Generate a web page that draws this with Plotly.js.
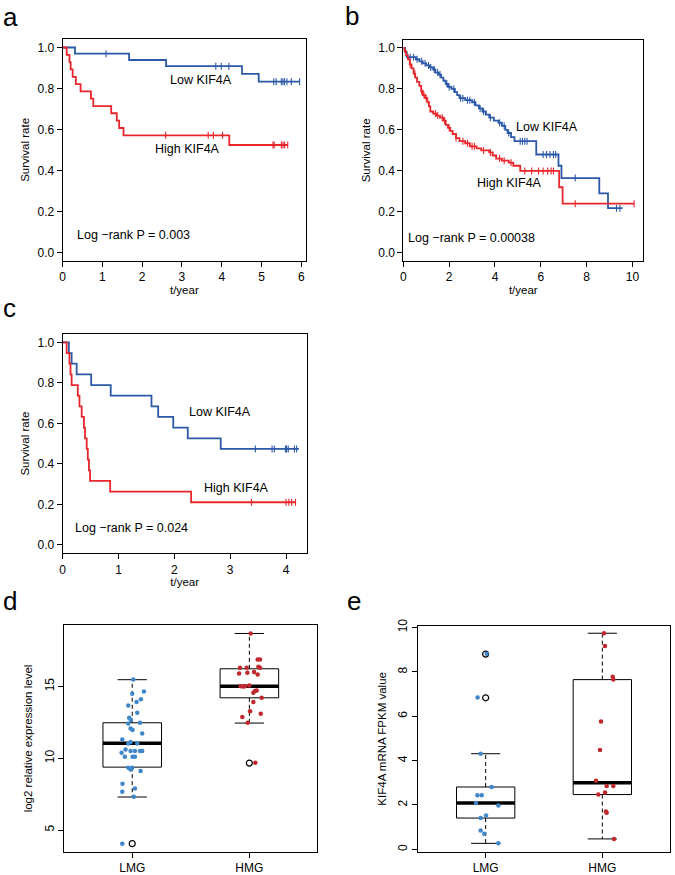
<!DOCTYPE html>
<html><head><meta charset="utf-8">
<script src="https://cdn.plot.ly/plotly-3.0.1.min.js"></script>
<style>html,body{margin:0;padding:0;background:#fff}#chart{width:675px;height:875px}</style>
</head><body><div id="chart"></div>
<script>
// ---------- Panel a (Kaplan-Meier) ----------
const aLowT = [0.31, 1.67, 2.6, 4.51, 4.93];
const aLowS = [0.970, 0.939, 0.909, 0.871, 0.833];
const aLowCensor = [1.09, 3.85, 3.99, 4.18, 5.31, 5.37, 5.5, 5.54, 5.58, 5.64, 5.75, 5.96];
const aLowEnd = 5.96;
const aHighT = [0.1, 0.17, 0.2, 0.25, 0.33, 0.45, 0.71, 0.77, 1.22, 1.36, 1.42, 1.53, 4.19];
const aHighS = [0.964, 0.929, 0.893, 0.857, 0.821, 0.786, 0.750, 0.714, 0.679, 0.643, 0.607, 0.571, 0.524];
const aHighCensor = [2.59, 3.66, 3.79, 4.02, 5.29, 5.32, 5.5, 5.54, 5.58, 5.66];
const aHighEnd = 5.66;

// ---------- Panel b ----------
const bLowT = [0.08, 0.15, 0.55, 0.7, 0.85, 1.0, 1.15, 1.3, 1.4, 1.55, 1.65, 1.75, 1.85, 1.95, 2.1, 2.25, 2.35, 2.45, 2.7, 3.0, 3.15, 3.3, 3.45, 3.6, 3.75, 3.95, 4.15, 4.3, 4.45, 4.55, 4.7, 4.85, 5.8, 6.77, 6.9, 8.55, 8.93];
const bLowS = [0.98, 0.955, 0.945, 0.935, 0.925, 0.915, 0.905, 0.895, 0.88, 0.87, 0.855, 0.84, 0.825, 0.81, 0.8, 0.785, 0.77, 0.755, 0.745, 0.735, 0.72, 0.705, 0.69, 0.675, 0.66, 0.645, 0.635, 0.62, 0.6, 0.585, 0.565, 0.545, 0.48, 0.425, 0.365, 0.29, 0.218];
const bLowCensor = [0.3, 0.45, 0.6, 0.8, 0.95, 1.1, 1.2, 1.35, 1.5, 1.6, 1.9, 2.0, 2.2, 2.5, 2.6, 2.8, 2.9, 3.1, 3.35, 3.5, 3.8, 4.2, 4.4, 4.6, 5.1, 5.2, 5.3, 5.4, 6.1, 6.25, 6.4, 6.55, 6.65, 7.5, 9.3, 9.45];
const bLowEnd = 9.56;
const bHighT = [0.05, 0.12, 0.2, 0.28, 0.36, 0.45, 0.52, 0.6, 0.7, 0.78, 0.85, 0.95, 1.05, 1.12, 1.18, 1.3, 1.45, 1.6, 1.75, 1.85, 1.95, 2.05, 2.15, 2.3, 2.45, 2.7, 2.9, 3.2, 3.4, 3.75, 3.9, 4.05, 4.3, 4.6, 4.8, 5.1, 6.8, 6.95];
const bHighS = [0.985, 0.965, 0.945, 0.92, 0.9, 0.875, 0.855, 0.835, 0.815, 0.79, 0.77, 0.755, 0.735, 0.715, 0.69, 0.68, 0.67, 0.66, 0.645, 0.625, 0.61, 0.595, 0.58, 0.56, 0.545, 0.535, 0.52, 0.51, 0.5, 0.49, 0.475, 0.46, 0.45, 0.44, 0.425, 0.4, 0.32, 0.24];
const bHighCensor = [0.3, 0.5, 0.8, 0.9, 1.0, 1.4, 1.5, 1.7, 1.8, 2.0, 2.3, 2.6, 2.8, 3.0, 3.1, 3.5, 3.8, 4.2, 4.4, 4.7, 5.3, 5.6, 5.9, 6.1, 6.3, 6.45, 6.55, 7.5, 10.07];
const bHighEnd = 10.07;

// ---------- Panel c ----------
const cLowT = [0.11, 0.16, 0.25, 0.51, 0.86, 1.59, 1.71, 1.98, 2.24, 2.83];
const cLowS = [0.947, 0.895, 0.842, 0.789, 0.737, 0.684, 0.632, 0.579, 0.526, 0.474];
const cLowCensor = [3.45, 3.75, 3.79, 3.99, 4.01, 4.04, 4.15, 4.19];
const cLowEnd = 4.23;
const cHighT = [0.07, 0.12, 0.14, 0.16, 0.27, 0.3, 0.34, 0.38, 0.4, 0.43, 0.45, 0.47, 0.49, 0.85, 2.3];
const cHighS = [0.947, 0.895, 0.842, 0.789, 0.737, 0.684, 0.632, 0.579, 0.526, 0.474, 0.421, 0.368, 0.316, 0.263, 0.211];
const cHighCensor = [3.38, 4.0, 4.05, 4.1, 4.17];
const cHighEnd = 4.17;

// ---------- Panel d (box + strip) ----------
const groupLabels = ['LMG', 'HMG'];
const dLowStats = [7.3, 9.38, 11.05, 12.47, 15.47];   // lower whisker, q1, median, q3, upper whisker
const dHighStats = [12.45, 14.21, 15.02, 16.23, 18.69];
const dLowOut = [4.05];
const dHighOut = [9.66];
const dLowVals = [15.49, 14.65, 14.49, 14.1, 13.91, 13.68, 13.17, 12.82, 12.66, 12.47, 12.42, 12.08, 11.96, 11.73, 11.31, 11.13, 11.03, 11.03, 10.61, 10.5, 10.5, 10.5, 10.5, 10.38, 10.1, 10.1, 10.1, 9.34, 9.34, 9.22, 9.11, 8.22, 7.9, 7.67, 7.32, 4.05];
const dLowJit = [0.009, 0.1, 0, 0.074, 0.037, -0.034, 0.043, -0.026, -0.011, 0.066, -0.034, -0.014, 0.003, 0.085, -0.085, -0.014, -0.034, 0.043, -0.057, -0.014, 0.023, 0.066, 0.085, -0.091, -0.063, 0.003, 0.023, -0.034, 0, -0.014, 0.071, -0.083, 0.023, -0.085, 0.014, -0.085];
const dHighVals = [18.69, 16.88, 16.88, 16.37, 16.3, 16.3, 16.3, 16.0, 15.95, 15.9, 15.84, 15.07, 15.02, 15.02, 15.0, 14.72, 14.68, 14.56, 14.21, 13.91, 13.28, 13.1, 12.87, 12.47, 9.69];
const dHighJit = [0.011, 0.071, 0.091, 0.077, -0.08, -0.023, 0.091, 0.04, -0.017, -0.088, 0.071, 0, -0.074, -0.037, -0.051, 0.063, 0.048, 0.034, 0.105, 0.034, 0.006, 0.097, -0.06, -0.014, 0.051];

// ---------- Panel e ----------
const eLowStats = [0.27, 1.41, 2.09, 2.81, 4.31];
const eHighStats = [0.47, 2.47, 3.0, 7.65, 9.74];
const eLowOut = [6.83, 8.8];
const eHighOut = [];
const eLowVals = [8.82, 6.84, 4.31, 2.81, 2.44, 2.44, 2.09, 1.98, 1.53, 1.41, 0.85, 0.7, 0.27];
const eLowJit = [0.009, -0.069, -0.043, 0.051, -0.071, -0.034, -0.083, 0.109, 0.003, -0.043, -0.043, -0.011, 0.109];
const eHighVals = [9.74, 9.17, 7.78, 7.65, 5.76, 4.48, 3.09, 2.86, 2.86, 2.56, 2.47, 1.71, 1.65, 0.47];
const eHighJit = [0.014, 0.023, 0.089, 0.094, -0.011, -0.02, -0.054, 0.037, 0.094, 0.023, -0.034, 0.031, 0.037, 0.1];

// ---------- styling ----------
const FONT = 'Arial, "Liberation Sans", Helvetica, sans-serif';
const BLUE = '#2b58a8', RED = '#e8262b';
const PBLUE = '#3f87c9', PRED = '#c0272d';
const traces = [];

function survAt(T, S, t) {
  let s = 1;
  for (let i = 0; i < T.length; i++) { if (T[i] <= t) s = S[i]; }
  return s;
}
function km(T, S, endT, cens, color, ax) {
  const xs = [0].concat(T, [endT]);
  const ys = [1].concat(S, [S[S.length - 1]]);
  traces.push({x: xs, y: ys, xaxis: 'x' + ax, yaxis: 'y' + ax, mode: 'lines',
    line: {shape: 'hv', color: color, width: 1.8}, hoverinfo: 'skip'});
  traces.push({x: cens, y: cens.map(t => survAt(T, S, t)), xaxis: 'x' + ax, yaxis: 'y' + ax,
    mode: 'markers', marker: {symbol: 'line-ns', size: 5, line: {color: color, width: 1.1}}, hoverinfo: 'skip'});
}
km(aLowT, aLowS, aLowEnd, aLowCensor, BLUE, '');
km(aHighT, aHighS, aHighEnd, aHighCensor, RED, '');
km(bLowT, bLowS, bLowEnd, bLowCensor, BLUE, '2');
km(bHighT, bHighS, bHighEnd, bHighCensor, RED, '2');
km(cLowT, cLowS, cLowEnd, cLowCensor, BLUE, '3');
km(cHighT, cHighS, cHighEnd, cHighCensor, RED, '3');

function box(pos, st, outs, vals, jit, pcolor, ax) {
  const h = 0.25, c = 0.125;
  const xa = 'x' + ax, ya = 'y' + ax;
  traces.push({x: [pos, pos, null, pos, pos], y: [st[3], st[4], null, st[1], st[0]], xaxis: xa, yaxis: ya,
    mode: 'lines', line: {color: '#000', width: 1, dash: '4px,3px'}, hoverinfo: 'skip'});
  traces.push({x: [pos - c, pos + c, null, pos - c, pos + c], y: [st[4], st[4], null, st[0], st[0]], xaxis: xa, yaxis: ya,
    mode: 'lines', line: {color: '#000', width: 1}, hoverinfo: 'skip'});
  traces.push({x: [pos - h, pos + h, pos + h, pos - h, pos - h], y: [st[1], st[1], st[3], st[3], st[1]], xaxis: xa, yaxis: ya,
    mode: 'lines', fill: 'toself', fillcolor: '#fff', line: {color: '#000', width: 1}, hoverinfo: 'skip'});
  traces.push({x: [pos - h, pos + h], y: [st[2], st[2]], xaxis: xa, yaxis: ya,
    mode: 'lines', line: {color: '#000', width: 3.5}, hoverinfo: 'skip'});
  traces.push({x: outs.map(() => pos), y: outs, xaxis: xa, yaxis: ya, mode: 'markers',
    marker: {symbol: 'circle-open', size: 6, color: '#000', line: {width: 1.2}}, hoverinfo: 'skip'});
  traces.push({x: vals.map((v, i) => pos + jit[i]), y: vals, xaxis: xa, yaxis: ya, mode: 'markers',
    marker: {symbol: 'circle', size: 4.5, color: pcolor}, hoverinfo: 'skip'});
}
box(1, dLowStats, dLowOut, dLowVals, dLowJit, PBLUE, '4');
box(2, dHighStats, dHighOut, dHighVals, dHighJit, PRED, '4');
box(1, eLowStats, eLowOut, eLowVals, eLowJit, PBLUE, '5');
box(2, eHighStats, eHighOut, eHighVals, eHighJit, PRED, '5');

const W = 675, H = 875;
const px = (a, b) => [a / W, b / W];
const py = (top, bot) => [1 - bot / H, 1 - top / H];
const tickFont = {family: FONT, size: 12, color: '#000'};
function axBase(extra) {
  return Object.assign({showline: true, mirror: true, linecolor: '#000', linewidth: 1,
    ticks: 'outside', ticklen: 5, tickwidth: 1, tickcolor: '#000', showgrid: false, zeroline: false,
    tickfont: tickFont, fixedrange: true}, extra);
}
function xt(text, standoff) { return {text: text, font: {family: FONT, size: 11.5, color: '#000'}, standoff: standoff}; }

const kmY = (anchor, dom) => axBase({domain: dom, anchor: anchor, range: [-0.04, 1.04],
  tickvals: [0, 0.2, 0.4, 0.6, 0.8, 1.0], tickformat: '.1f', title: xt('Survival rate', 5)});

const layout = {
  width: W, height: H, margin: {l: 0, r: 0, t: 0, b: 0}, showlegend: false,
  paper_bgcolor: '#fff', plot_bgcolor: '#fff', font: {family: FONT, color: '#000'},
  xaxis: axBase({domain: px(62.7, 306), anchor: 'y', range: [0, 6.12], dtick: 1, title: xt('t/year', 1)}),
  yaxis: kmY('x', py(39.3, 260.5)),
  xaxis2: axBase({domain: px(403.3, 643.3), anchor: 'y2', range: [0, 10.47], dtick: 2, title: xt('t/year', 1)}),
  yaxis2: kmY('x2', py(39.8, 261)),
  xaxis3: axBase({domain: px(62.7, 306.7), anchor: 'y3', range: [0, 4.37], dtick: 1, title: xt('t/year', 1)}),
  yaxis3: kmY('x3', py(334.2, 553.1)),
  xaxis4: axBase({domain: px(64.3, 317.3), anchor: 'y4', range: [0.42, 2.58], tickvals: [1, 2], ticktext: groupLabels}),
  yaxis4: axBase({domain: py(625, 852), anchor: 'x4', range: [3.47, 19.28], tickvals: [5, 10, 15], tickangle: -90,
    title: xt('log2 relative expression level', 7)}),
  xaxis5: axBase({domain: px(418, 670), anchor: 'y5', range: [0.42, 2.58], tickvals: [1, 2], ticktext: groupLabels}),
  yaxis5: axBase({domain: py(625.7, 852), anchor: 'x5', range: [-0.12, 10.08], tickvals: [0, 2, 4, 6, 8, 10], tickangle: -90,
    title: xt('KIF4A mRNA FPKM value', 7)}),
  annotations: []
};

const ann = layout.annotations;
function note(text, x, y, ax) {
  ann.push({text: text, x: x, y: y, xref: 'x' + ax, yref: 'y' + ax, showarrow: false,
    font: {family: FONT, size: 12.5, color: '#000'}});
}
note('Low KIF4A', 3.49, 0.84, '');
note('High KIF4A', 3.15, 0.505, '');
note('Log \u2212rank P = 0.003', 1.77, 0.083, '');
note('Low KIF4A', 6.29, 0.616, '2');
note('High KIF4A', 4.63, 0.34, '2');
note('Log \u2212rank P = 0.00038', 2.97, 0.073, '2');
note('Low KIF4A', 2.81, 0.655, '3');
note('High KIF4A', 3.11, 0.283, '3');
note('Log \u2212rank P = 0.024', 1.23, 0.082, '3');

function letter(t, x, yc) {
  ann.push({text: t, x: x / W, y: 1 - yc / H, xref: 'paper', yref: 'paper', xanchor: 'left', yanchor: 'middle',
    showarrow: false, font: {family: FONT, size: 26, color: '#000'}});
}
letter('a', 1, 17);
letter('b', 343, 16);
letter('c', 1, 308);
letter('d', 1, 601);
letter('e', 345, 601);

Plotly.newPlot('chart', traces, layout, {staticPlot: true, displayModeBar: false});
</script>
</body></html>
